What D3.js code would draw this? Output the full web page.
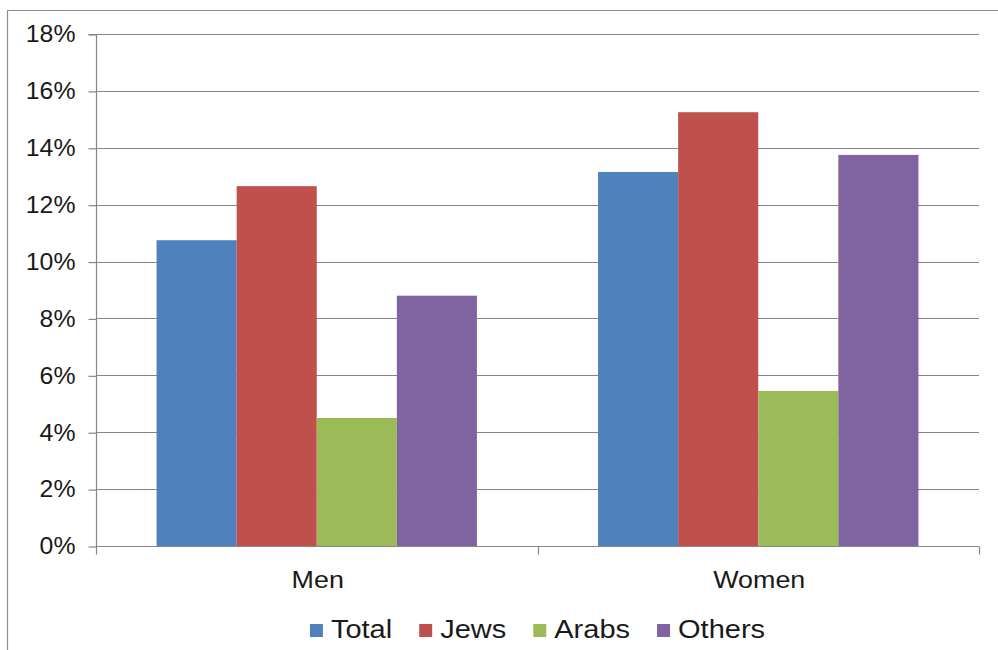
<!DOCTYPE html>
<html>
<head>
<meta charset="utf-8">
<script src="https://cdn.jsdelivr.net/npm/d3@7"></script>
<style>
  html, body { margin: 0; padding: 0; background: #fff; }
  svg { display: block; }
  text { font-family: Arial, "Liberation Sans", sans-serif; fill: #1a1a1a; }
</style>
</head>
<body>
<svg id="chart" width="998" height="650"></svg>
<script>
// Share of population (%) by sex and population group
const categories = ["Men", "Women"];
const seriesNames = ["Total", "Jews", "Arabs", "Others"];
const seriesColors = ["#4F81BD", "#C0504D", "#9BBB59", "#8064A2"];
const totalValues  = [10.75, 13.15];
const jewsValues   = [12.65, 15.25];
const arabsValues  = [4.5, 5.45];
const othersValues = [8.8, 13.75];
const yTicks = [0, 2, 4, 6, 8, 10, 12, 14, 16, 18];

const seriesValues = [totalValues, jewsValues, arabsValues, othersValues];

const svg = d3.select("#chart");
const plot = { left: 96, right: 979, top: 34, bottom: 546 };
const stretch = 1.12;
const gridColor = "#868686";

// frame around the chart area
svg.append("path")
  .attr("d", "M7.5,650 L7.5,10.5 L998,10.5")
  .attr("fill", "none").attr("stroke", "#8c8c8c").attr("stroke-width", 1.2);

const y = d3.scaleLinear().domain([0, 18]).range([plot.bottom, plot.top]);
const x0 = d3.scaleBand().domain(categories).range([plot.left, plot.right]).padding(0);
const x1 = d3.scaleBand().domain(seriesNames).range([0, x0.bandwidth()])
  .paddingInner(0).paddingOuter(0.756);

// horizontal gridlines
svg.append("g").selectAll("line").data(yTicks.filter(d => d > 0)).join("line")
  .attr("x1", plot.left).attr("x2", plot.right)
  .attr("y1", d => Math.round(y(d)) + 0.5).attr("y2", d => Math.round(y(d)) + 0.5)
  .attr("stroke", gridColor).attr("stroke-width", 1.2);

// bars
const groups = svg.append("g").selectAll("g").data(categories).join("g")
  .attr("transform", c => `translate(${x0(c)},0)`);
groups.selectAll("rect")
  .data((c, ci) => seriesNames.map((s, si) => ({ s, si, v: seriesValues[si][ci] })))
  .join("rect")
  .attr("x", d => x1(d.s))
  .attr("width", x1.bandwidth())
  .attr("y", d => y(d.v))
  .attr("height", d => y(0) - y(d.v))
  .attr("fill", d => seriesColors[d.si]);

// y axis
const yAxis = svg.append("g")
  .attr("transform", `translate(${plot.left + 0.5},0.5)`)
  .call(d3.axisLeft(y).tickValues(yTicks).tickSize(8).tickPadding(14)
    .tickFormat(d => d + "%"));
yAxis.select(".domain").attr("stroke", gridColor).attr("stroke-width", 1.2)
  .attr("d", `M-8,${y(18)}H0V${y(0)}`);
yAxis.selectAll(".tick line").attr("stroke", gridColor).attr("stroke-width", 1.2);
yAxis.selectAll(".tick text")
  .attr("font-size", 23).attr("fill", "#1a1a1a")
  .attr("font-family", "Arial, 'Liberation Sans', sans-serif")
  .each(function () {
    const t = d3.select(this);
    const xx = +t.attr("x") + 1;
    t.attr("x", null).attr("transform", `translate(${xx},0) scale(1.08,1)`);
  });

// x axis
const xAxis = svg.append("g").attr("transform", `translate(0,${plot.bottom + 0.5})`);
xAxis.append("line").attr("x1", plot.left).attr("x2", plot.right)
  .attr("stroke", gridColor).attr("stroke-width", 1.2);
const boundaries = [plot.left, x0("Women"), plot.right];
xAxis.selectAll("line.tk").data(boundaries).join("line").attr("class", "tk")
  .attr("x1", d => Math.round(d) + 0.5).attr("x2", d => Math.round(d) + 0.5)
  .attr("y1", 0).attr("y2", 8)
  .attr("stroke", gridColor).attr("stroke-width", 1.2);
xAxis.selectAll("text").data(categories).join("text")
  .attr("transform", c => `translate(${x0(c) + x0.bandwidth() / 2 + 1},41) scale(${stretch},1)`)
  .attr("text-anchor", "middle").attr("font-size", 24)
  .text(c => c);

// legend, centred under the plot
const legendStretch = 1.16;
const legend = svg.append("g");
const items = legend.selectAll("g").data(seriesNames).join("g");
items.append("rect").attr("width", 13).attr("height", 13).attr("y", 624)
  .attr("fill", (d, i) => seriesColors[i]);
items.append("text").attr("font-size", 25).text(d => d);
const widths = [];
items.each(function () {
  widths.push(d3.select(this).select("text").node().getComputedTextLength() * legendStretch);
});
const squareGap = 8, itemGap = 27;
const totalW = widths.reduce((a, w) => a + 13 + squareGap + w, 0) + itemGap * (widths.length - 1);
let cursor = (plot.left + plot.right) / 2 - totalW / 2;
items.each(function (d, i) {
  const g = d3.select(this);
  g.select("rect").attr("x", cursor);
  g.select("text").attr("transform", `translate(${cursor + 13 + squareGap},638) scale(${legendStretch},1)`);
  cursor += 13 + squareGap + widths[i] + itemGap;
});
</script>
</body>
</html>
